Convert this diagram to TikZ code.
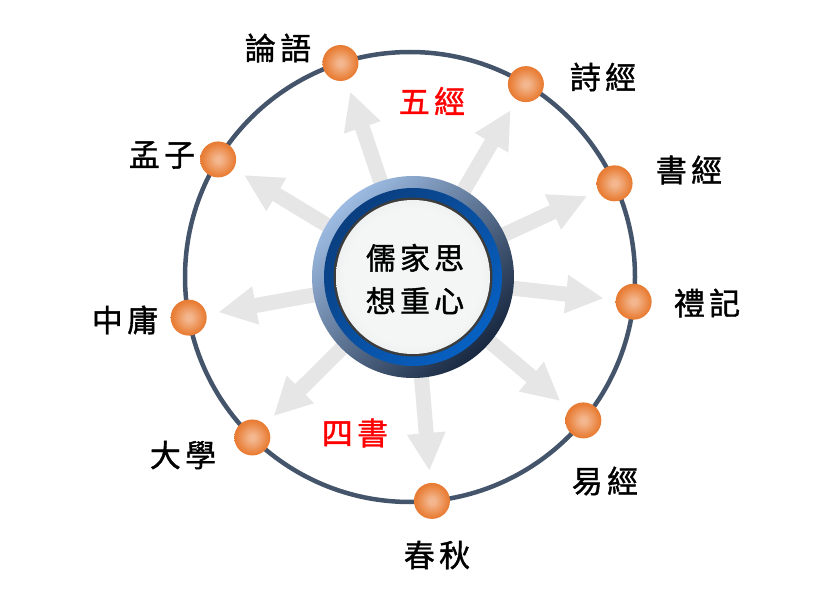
\documentclass[tikz,border=0pt]{standalone}
\usepackage{fontspec}
\usepackage{tikz}
\usetikzlibrary{arrows.meta,backgrounds}
\newfontfamily\cjk[LetterSpace=14,FakeBold=1.2]{Noto Sans CJK TC}
\definecolor{ringline}{HTML}{44546A}
\definecolor{spokegray}{HTML}{E6E6E6}
\definecolor{orbin}{HTML}{F3B68E}
\definecolor{orbout}{HTML}{E98039}
\definecolor{orbedge}{HTML}{E06D25}
\definecolor{hubhi}{HTML}{9DBBE2}
\definecolor{hubmid}{HTML}{2C5A98}
\definecolor{hublo}{HTML}{182840}
\definecolor{bandhi}{HTML}{0A3F80}
\definecolor{bandlo}{HTML}{0760C2}
\definecolor{discrim}{HTML}{3C3C3C}
\definecolor{discin}{HTML}{F4F6F6}
\definecolor{discout}{HTML}{C6CDCD}
\pgfdeclareradialshading{orb}{\pgfpoint{0bp}{0bp}}{color(0bp)=(orbin); color(4bp)=(orbin); color(22bp)=(orbout); color(34bp)=(orbedge); color(50bp)=(orbedge)}
\pgfdeclareradialshading{disc}{\pgfpoint{0bp}{0bp}}{color(0bp)=(discin); color(22bp)=(discin); color(50bp)=(discout)}

\begin{document}
\begin{tikzpicture}[x=1pt,y=1pt,
  orb/.style={circle, minimum size=36pt, inner sep=0pt, shade, shading=orb},
  spoke/.style={draw=spokegray, line width=15pt, shorten >=30pt, -{Triangle[width=36pt,length=38pt]}},
  lbl/.style={font=\cjk\fontsize{31}{36}\selectfont, inner sep=0pt},
  redlbl/.style={lbl, text=red}]
\useasboundingbox (0,0) rectangle (833,590);
\coordinate (c) at (410,313);
\coordinate (hub) at (413,313);

% the nine books on the ring
\node[orb] (lunyu) at ([shift={(108:225)}]c) {};
\node[orb] (shijing) at ([shift={(59:225)}]c) {};
\node[orb] (shujing) at ([shift={(24.6:225)}]c) {};
\node[orb] (liji) at ([shift={(-6.3:225)}]c) {};
\node[orb] (yijing) at ([shift={(-39.6:225)}]c) {};
\node[orb] (chunqiu) at ([shift={(-84.4:225)}]c) {};
\node[orb] (daxue) at ([shift={(-134.5:225)}]c) {};
\node[orb] (zhongyong) at ([shift={(190.4:225)}]c) {};
\node[orb] (mengzi) at ([shift={(148.5:225)}]c) {};

\begin{scope}[on background layer]
\draw[ringline, line width=4.5pt] (c) circle (225);
\draw[spoke] (hub) -- (lunyu.center);
\draw[spoke] (hub) -- (shijing.center);
\draw[spoke] (hub) -- (shujing.center);
\draw[spoke] (hub) -- (liji.center);
\draw[spoke] (hub) -- (yijing.center);
\draw[spoke] (hub) -- (chunqiu.center);
\draw[spoke] (hub) -- (daxue.center);
\draw[spoke] (hub) -- (zhongyong.center);
\draw[spoke] (hub) -- (mengzi.center);
\end{scope}

% centre button
\shade[top color=hubhi, middle color=hubmid, bottom color=hublo, shading angle=45] (hub) circle (101);
\shade[top color=bandhi, bottom color=bandlo, shading angle=45] (hub) circle (89);
\fill[discrim] (hub) circle (79.5);
\shade[shading=disc] (hub) circle (77);
\node[lbl, align=center, font=\cjk\fontsize{30}{43}\selectfont] (core) at (415,311) {儒家思\\想重心};

\node[lbl] (tlunyu) at (278,542) {論語};
\node[lbl] (tshijing) at (603,513) {詩經};
\node[lbl] (tshujing) at (689,420) {書經};
\node[lbl] (tliji) at (707,287) {禮記};
\node[lbl] (tyijing) at (605,109) {易經};
\node[lbl] (tchunqiu) at (437,35) {春秋};
\node[lbl] (tdaxue) at (183,135) {大學};
\node[lbl] (tzhongyong) at (125,270) {中庸};
\node[lbl] (tmengzi) at (162,435) {孟子};
\node[redlbl] (wujing) at (432,489) {五經};
\node[redlbl] (sishu) at (355,157) {四書};
\end{tikzpicture}
\end{document}
